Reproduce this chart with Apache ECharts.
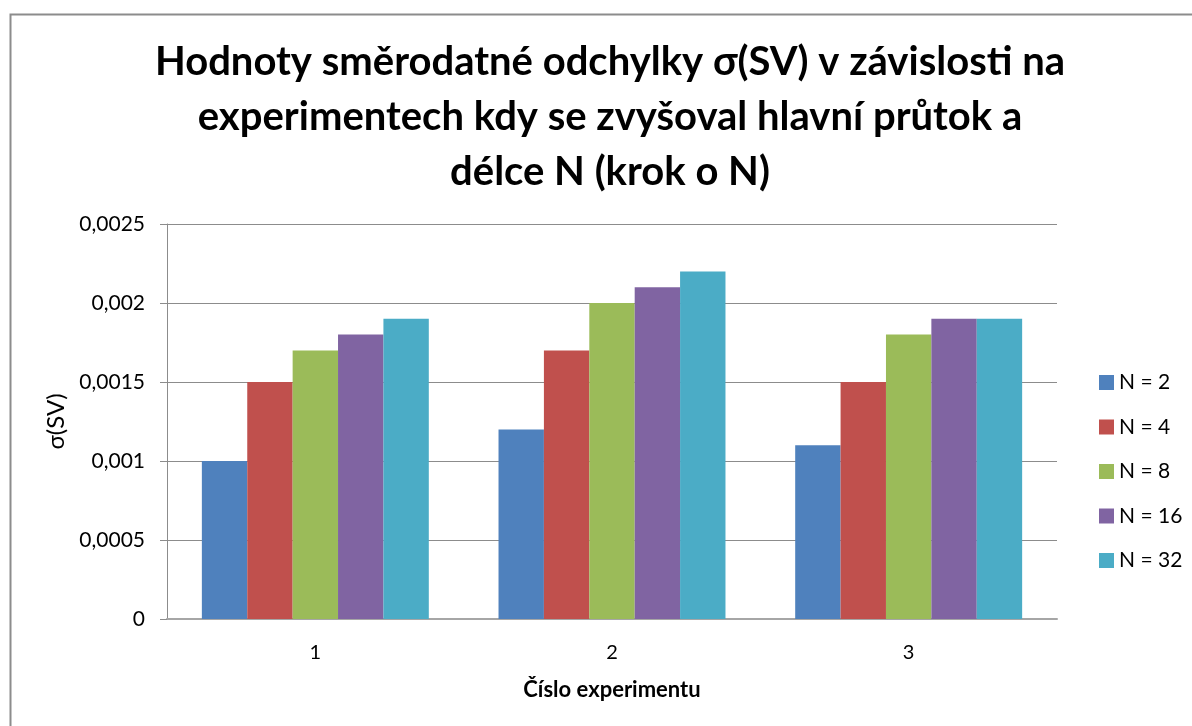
<!DOCTYPE html>
<html>
<head>
<meta charset="utf-8">
<script src="https://cdn.jsdelivr.net/npm/echarts@6/dist/echarts.min.js"></script>
<style>
  html, body { margin: 0; padding: 0; background: #fff; }
</style>
</head>
<body>
<div id="chart" style="width: 1192px; height: 726px"></div>
<script>
// data
const categories = ['1', '2', '3']
const seriesNames = ['N = 2', 'N = 4', 'N = 8', 'N = 16', 'N = 32']
const valuesN2 = [0.001, 0.0012, 0.0011]
const valuesN4 = [0.0015, 0.0017, 0.0015]
const valuesN8 = [0.0017, 0.002, 0.0018]
const valuesN16 = [0.0018, 0.0021, 0.0019]
const valuesN32 = [0.0019, 0.0022, 0.0019]
const allValues = [valuesN2, valuesN4, valuesN8, valuesN16, valuesN32]
const colors = ['#4F81BD', '#C0504D', '#9BBB59', '#8064A2', '#4BACC6']

const font = 'Lato, "Open Sans", sans-serif'
const chart = echarts.init(document.getElementById('chart'))

const option = {
  animation: false,
  color: colors,
  textStyle: { fontFamily: font },
  // outer chart frame (Excel style)
  graphic: [{
    type: 'rect',
    left: 8, top: 12,
    shape: { width: 1300, height: 900 },
    style: { fill: 'none', stroke: '#8c8c8c', lineWidth: 2 },
    silent: true
  }],
  title: {
    text: 'Hodnoty směrodatné odchylky σ(SV) v závislosti na\nexperimentech kdy se zvyšoval hlavní průtok a\ndélce N (krok o N)',
    left: 605,
    top: 30,
    textAlign: 'center',
    textStyle: {
      fontFamily: font,
      fontWeight: 'bold',
      fontSize: 40,
      lineHeight: 55,
      color: '#000'
    }
  },
  legend: {
    orient: 'vertical',
    left: 1094,
    top: 367,
    itemWidth: 15,
    itemHeight: 15,
    itemGap: 23.5,
    icon: 'rect',
    textStyle: { fontFamily: font, fontSize: 21, lineHeight: 20, color: '#000' },
    data: seriesNames
  },
  grid: { left: 167, right: 135, top: 224, bottom: 107 },
  xAxis: {
    type: 'category',
    data: categories,
    name: 'Číslo experimentu',
    nameLocation: 'middle',
    nameGap: 60,
    nameTextStyle: { fontFamily: font, fontWeight: 'bold', fontSize: 22, color: '#000' },
    axisLine: { lineStyle: { color: '#a6a6a6', width: 2 } },
    axisTick: { show: false },
    axisLabel: { fontSize: 20, color: '#000', margin: 24 }
  },
  yAxis: {
    type: 'value',
    min: 0,
    max: 0.0025,
    interval: 0.0005,
    name: 'σ(SV)',
    nameLocation: 'middle',
    nameGap: 97,
    nameRotate: 90,
    nameTextStyle: { fontFamily: font, fontSize: 24, color: '#000' },
    axisLine: { show: true, lineStyle: { color: '#8c8c8c', width: 1 } },
    axisTick: { show: true, length: 7, lineStyle: { color: '#8c8c8c' } },
    splitLine: { lineStyle: { color: '#8c8c8c', width: 1 } },
    axisLabel: {
      fontSize: 21,
      color: '#000',
      margin: 22,
      formatter: v => String(v).replace('.', ',')
    }
  },
  series: seriesNames.map((name, i) => ({
    name,
    type: 'bar',
    data: allValues[i],
    barGap: '0%',
    barCategoryGap: '23.5%',
    itemStyle: { color: colors[i] }
  }))
}

chart.setOption(option)
</script>
</body>
</html>
